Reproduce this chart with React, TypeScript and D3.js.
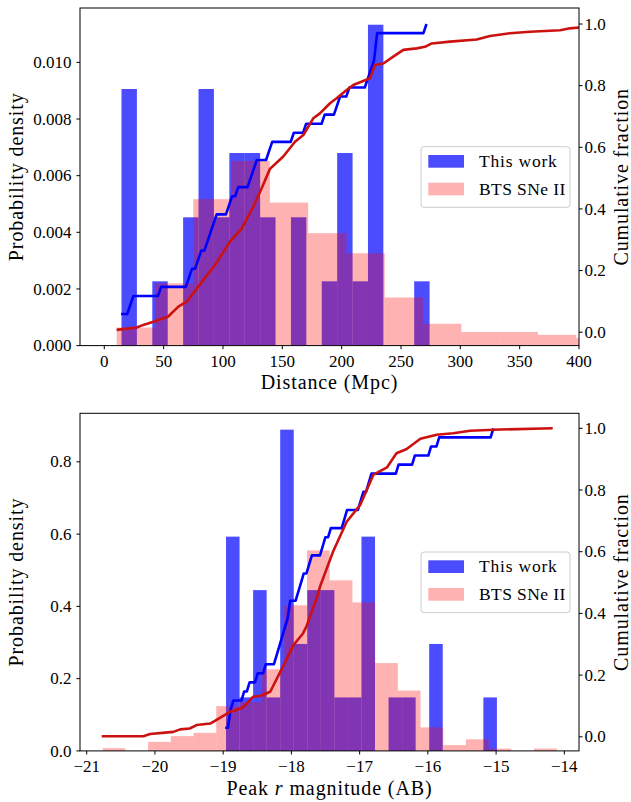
import React from "react";
import * as d3 from "d3";

// ---------- data ----------
const distTicks = [0, 50, 100, 150, 200, 250, 300, 350, 400];
const distDensityTicks = [0, 0.002, 0.004, 0.006, 0.008, 0.01];
const cumTicks = [0, 0.2, 0.4, 0.6, 0.8, 1.0];
const magTicks = [-21, -20, -19, -18, -17, -16, -15, -14];
const magDensityTicks = [0, 0.2, 0.4, 0.6, 0.8];

const seriesNames = ["This work", "BTS SNe II"];

// Distance histograms (density)
const distThisWorkBinStart = 14.5;
const distThisWorkBinWidth = 12.98;
const distThisWorkDensity = [0.00906, 0, 0.00227, 0, 0.00453, 0.00906, 0.00453, 0.0068, 0.0068, 0.00453, 0, 0.00453, 0, 0.00227, 0.0068, 0.00227, 0.01133, 0, 0, 0.00227];
const distBtsBinStart = 10.45;
const distBtsBinWidth = 32.27;
const distBtsDensity = [0.00064, 0.0022, 0.00517, 0.00652, 0.00505, 0.00397, 0.00326, 0.0017, 0.00077, 0.00048, 0.00048, 0.00038, 0.00027];

// Distance samples of this work (Mpc)
const distThisWorkValues = [14.1, 14.1, 20.5, 22, 47.5, 70, 73, 76.5, 80.5, 84.5, 88, 91, 94, 104, 107.5, 110.5, 121.5, 123.5, 126, 137.5, 139.5, 159.5, 168, 185.5, 195, 198.5, 204.5, 219.5, 224.5, 226, 227.5, 228.5, 229.5, 271.5];
// BTS cumulative fraction vs distance
const distBtsCdfX = [10.4, 27.3, 32.9, 41.3, 53.9, 62.4, 69.4, 79.2, 89, 93.3, 105.9, 115.8, 125.5, 132.6, 139.6, 150.8, 160.7, 167.7, 176.1, 181.7, 190.2, 195.8, 204.2, 209.8, 218.2, 223.9, 228.1, 235.1, 243.5, 252, 263.2, 270.2, 275.9, 291.3, 313.8, 325, 341.8, 358.7, 384, 392.4, 400.8];
const distBtsCdfY = [0.0075, 0.015, 0.0237, 0.034, 0.051, 0.083, 0.099, 0.148, 0.197, 0.218, 0.294, 0.337, 0.407, 0.467, 0.53, 0.57, 0.618, 0.64, 0.694, 0.71, 0.743, 0.759, 0.786, 0.802, 0.815, 0.824, 0.867, 0.872, 0.894, 0.916, 0.921, 0.926, 0.937, 0.943, 0.95, 0.961, 0.97, 0.975, 0.98, 0.986, 0.989];

// Magnitude histograms (density)
const magThisWorkBinStart = -18.958;
const magThisWorkBinWidth = 0.1985;
const magThisWorkDensity = [0.593, 0.148, 0.445, 0.148, 0.889, 0.296, 0.445, 0.445, 0.148, 0.148, 0.593, 0, 0.148, 0.148, 0, 0.296, 0, 0, 0, 0.148];
const magBtsBinStart = -20.765;
const magBtsBinWidth = 0.3327;
const magBtsDensity = [0.0075, 0, 0.025, 0.041, 0.05, 0.124, 0.135, 0.226, 0.403, 0.555, 0.472, 0.411, 0.243, 0.167, 0.065, 0.016, 0.032, 0.0065, 0, 0.0065];

// Peak magnitude samples of this work
const magThisWorkValues = [-18.97, -18.93, -18.9, -18.87, -18.72, -18.62, -18.52, -18.38, -18.25, -18.2, -18.16, -18.12, -18.09, -18.05, -18.02, -17.93, -17.86, -17.82, -17.76, -17.72, -17.58, -17.52, -17.45, -17.25, -17.19, -17.0, -16.95, -16.9, -16.83, -16.44, -16.21, -15.98, -15.85, -15.04];
// BTS cumulative fraction vs magnitude
const magBtsCdfX = [-20.78, -20.17, -20.07, -19.73, -19.63, -19.49, -19.39, -19.19, -19.09, -18.9, -18.8, -18.7, -18.56, -18.46, -18.36, -18.31, -18.15, -17.97, -17.83, -17.78, -17.63, -17.58, -17.39, -17.19, -16.99, -16.8, -16.6, -16.46, -16.31, -16.11, -15.87, -15.63, -15.38, -14.94, -14.17];
const magBtsCdfY = [0.002, 0.002, 0.009, 0.016, 0.024, 0.027, 0.038, 0.043, 0.056, 0.081, 0.087, 0.097, 0.13, 0.132, 0.141, 0.146, 0.216, 0.297, 0.335, 0.357, 0.449, 0.487, 0.6, 0.697, 0.752, 0.849, 0.873, 0.919, 0.933, 0.966, 0.979, 0.984, 0.992, 0.996, 1.0];

// ---------- helpers ----------
function ecdfGrid(values: number[], n = 100): [number, number][] {
  const s = [...values].sort(d3.ascending);
  const lo = s[0], hi = s[s.length - 1];
  return d3.range(n).map((i) => {
    const v = i === n - 1 ? hi : lo + ((hi - lo) * i) / (n - 1);
    return [v, d3.bisectRight(s, v) / s.length] as [number, number];
  });
}

const FONT = "Liberation Serif, DejaVu Serif, serif";
const TXT: React.CSSProperties = { fontFamily: FONT };
const BLUE = "#0000ff";
const RED = "#ff0000";
const LINE_RED = "#cc1111";

type PanelProps = {
  id: string;
  top: number;
  xDomain: [number, number];
  yDomain: [number, number];
  y2Domain: [number, number];
  xTicks: number[];
  yTicks: number[];
  yFmt: (v: number) => string;
  xFmt: (v: number) => string;
  xLabel: React.ReactNode;
  blueStart: number;
  blueWidth: number;
  blueDensity: number[];
  pinkStart: number;
  pinkWidth: number;
  pinkDensity: number[];
  blueValues: number[];
  redX: number[];
  redY: number[];
};

function Panel(p: PanelProps) {
  const left = 80, right = 579, h = 337.6;
  const top = p.top, bottom = top + h;
  const x = d3.scaleLinear().domain(p.xDomain).range([left, right]);
  const y = d3.scaleLinear().domain(p.yDomain).range([bottom, top]);
  const y2 = d3.scaleLinear().domain(p.y2Domain).range([bottom, top]);
  const fmt1 = d3.format(".1f");

  const bars = (start: number, width: number, dens: number[], color: string, op: number) =>
    dens.map((d, i) => {
      if (d <= 0) return null;
      const x0 = x(start + i * width), x1 = x(start + (i + 1) * width);
      return <rect key={i} x={x0} width={x1 - x0} y={y(d)} height={y(0) - y(d)} fill={color} fillOpacity={op} />;
    });

  const blueLine = d3.line<[number, number]>().x((d) => x(d[0])).y((d) => y2(d[1]))(ecdfGrid(p.blueValues)) || "";
  const redPts = p.redX.map((v, i) => [v, p.redY[i]] as [number, number]);
  const redLine = d3.line<[number, number]>().x((d) => x(d[0])).y((d) => y2(d[1]))(redPts) || "";

  const legTop = top + 138.7;
  const legLeft = 421;

  return (
    <g>
      <defs>
        <clipPath id={p.id}>
          <rect x={left} y={top} width={right - left} height={h} />
        </clipPath>
      </defs>
      <g clipPath={`url(#${p.id})`}>
        {bars(p.blueStart, p.blueWidth, p.blueDensity, BLUE, 0.7)}
        {bars(p.pinkStart, p.pinkWidth, p.pinkDensity, RED, 0.3)}
      </g>
      {/* legend */}
      <g>
        <rect x={legLeft} y={legTop} width={149} height={60.6} rx={3} fill="#ffffff" fillOpacity={0.8} stroke="#cccccc" strokeWidth={1} />
        <rect x={legLeft + 7.3} y={legTop + 8.3} width={35.7} height={12.7} fill={BLUE} fillOpacity={0.7} />
        <rect x={legLeft + 7.3} y={legTop + 36} width={35.7} height={12.7} fill={RED} fillOpacity={0.3} />
        <text style={TXT} x={legLeft + 58} y={legTop + 20} fontSize={17.5} letterSpacing={0.8} fill="#000">{seriesNames[0]}</text>
        <text style={TXT} x={legLeft + 58} y={legTop + 48} fontSize={17.5} letterSpacing={0.4} fill="#000">{seriesNames[1]}</text>
      </g>
      <g clipPath={`url(#${p.id})`}>
        <path d={blueLine} fill="none" stroke={BLUE} strokeWidth={2.6} strokeLinejoin="round" />
        <path d={redLine} fill="none" stroke={LINE_RED} strokeWidth={2.6} strokeLinejoin="round" />
      </g>
      {/* frame */}
      <rect x={left} y={top} width={right - left} height={h} fill="none" stroke="#000" strokeWidth={1} />
      {/* x ticks */}
      {p.xTicks.map((t) => (
        <g key={"x" + t}>
          <line x1={x(t)} x2={x(t)} y1={bottom} y2={bottom + 3.6} stroke="#000" strokeWidth={1} />
          <text style={TXT} x={x(t)} y={bottom + 21.5} fontSize={17} textAnchor="middle" fill="#000">{p.xFmt(t)}</text>
        </g>
      ))}
      {/* left ticks */}
      {p.yTicks.map((t) => (
        <g key={"y" + t}>
          <line x1={left - 3.6} x2={left} y1={y(t)} y2={y(t)} stroke="#000" strokeWidth={1} />
          <text style={TXT} x={left - 8.5} y={y(t)} dy="0.33em" fontSize={17} textAnchor="end" fill="#000">{p.yFmt(t)}</text>
        </g>
      ))}
      {/* right ticks */}
      {cumTicks.map((t) => (
        <g key={"r" + t}>
          <line x1={right} x2={right + 3.6} y1={y2(t)} y2={y2(t)} stroke="#000" strokeWidth={1} />
          <text style={TXT} x={right + 5.5} y={y2(t)} dy="0.33em" fontSize={17} textAnchor="start" fill="#000">{fmt1(t)}</text>
        </g>
      ))}
      {/* axis labels */}
      <text style={TXT} x={(left + right) / 2} y={bottom + 43.8} fontSize={20} letterSpacing={0.9} textAnchor="middle" fill="#000">{p.xLabel}</text>
      <text style={TXT} transform={`translate(22.5,${(top + bottom) / 2}) rotate(-90)`} fontSize={20} letterSpacing={0.9} textAnchor="middle" fill="#000">Probability density</text>
      <text style={TXT} transform={`translate(627.5,${(top + bottom) / 2}) rotate(-90)`} fontSize={20} letterSpacing={0.9} textAnchor="middle" fill="#000">Cumulative fraction</text>
    </g>
  );
}

export default function App() {
  return (
    <svg width={631} height={802} style={{ position: "absolute", left: 0, top: 0, background: "#fff", fontFamily: FONT }}>
      <rect x={0} y={0} width={631} height={802} fill="#fff" />
      <Panel
        id="clipTop"
        top={8}
        xDomain={[-20.47, 400]}
        yDomain={[0, 0.01192]}
        y2Domain={[-0.0435, 1.052]}
        xTicks={distTicks}
        yTicks={distDensityTicks}
        yFmt={d3.format(".3f")}
        xFmt={d3.format("d")}
        xLabel="Distance (Mpc)"
        blueStart={distThisWorkBinStart}
        blueWidth={distThisWorkBinWidth}
        blueDensity={distThisWorkDensity}
        pinkStart={distBtsBinStart}
        pinkWidth={distBtsBinWidth}
        pinkDensity={distBtsDensity}
        blueValues={distThisWorkValues}
        redX={distBtsCdfX}
        redY={distBtsCdfY}
      />
      <Panel
        id="clipBottom"
        top={413.3}
        xDomain={[-21.098, -13.785]}
        yDomain={[0, 0.9343]}
        y2Domain={[-0.0457, 1.0486]}
        xTicks={magTicks}
        yTicks={magDensityTicks}
        yFmt={d3.format(".1f")}
        xFmt={d3.format("d")}
        xLabel={<>Peak <tspan fontStyle="italic">r</tspan> magnitude (AB)</>}
        blueStart={magThisWorkBinStart}
        blueWidth={magThisWorkBinWidth}
        blueDensity={magThisWorkDensity}
        pinkStart={magBtsBinStart}
        pinkWidth={magBtsBinWidth}
        pinkDensity={magBtsDensity}
        blueValues={magThisWorkValues}
        redX={magBtsCdfX}
        redY={magBtsCdfY}
      />
    </svg>
  );
}
